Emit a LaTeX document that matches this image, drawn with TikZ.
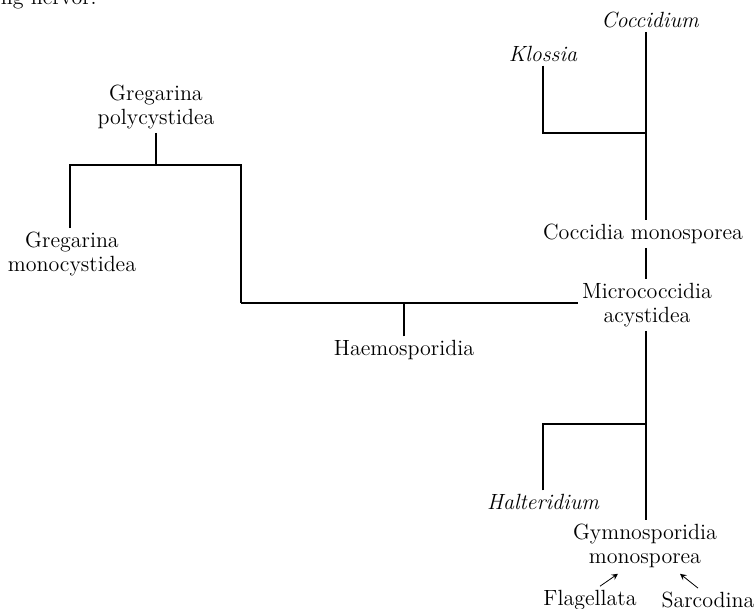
\documentclass[tikz,border=0pt]{standalone}
\usetikzlibrary{calc}
\begin{document}
\begin{tikzpicture}[x=0.5pt,y=-0.5pt,line width=0.9pt,
    every node/.style={font=\fontsize{11}{12}\selectfont,align=center,inner sep=1.5pt},
    genus/.style={font=\fontsize{11}{12}\selectfont\itshape},
    arr/.style={line width=0.4pt,-stealth}]
    \useasboundingbox (0,0) rectangle (756,609);
    \node[anchor=base west,inner sep=0pt] (fragment) at (0,5) {ng nervor:};
    % right-hand stem
    \node[genus] (coccidium) at (650,20) {Coccidium};
    \node[genus] (klossia) at (543,54) {Klossia};
    \node (coccmono) at (643,234) {Coccidia monosporea};
    \node (micro) at (647,305) {Micrococcidia\\acystidea};
    \node[genus] (halter) at (543,502) {Halteridium};
    \node (gymno) at (645,546) {Gymnosporidia\\monosporea};
    \node (flag) at (590,600) {Flagellata};
    \node (sarc) at (708,600) {Sarcodina};
    % left-hand tree
    \node (polycyst) at (156,107) {Gregarina\\polycystidea};
    \node (monocyst) at (72,254) {Gregarina\\monocystidea};
    \node (haemo) at (404,350) {Haemosporidia};
    \coordinate (kl) at (646,133);
    \coordinate (ha) at (646,424);
    \coordinate (gp) at (156,165);
    \coordinate (gr) at (241,303);
    \coordinate (hm) at (404,303);
    \draw (coccidium.south -| kl) -- (coccmono.north -| kl);
    \draw (coccmono.south -| kl) -- (micro.north -| kl);
    \draw (micro.south -| kl) -- (gymno.north -| kl);
    \draw (klossia) |- (kl);
    \draw (halter) |- (ha);
    \draw (polycyst) -- (gp);
    \draw (monocyst.north -| 70,0) |- (gp) -| (gr);
    \draw (gr) -- (gr -| micro.west);
    \draw (haemo) -- (hm);
    \draw[arr] ($(flag.north)+(10,0)$) -- ($(gymno.south)+(-27,2)$);
    \draw[arr] ($(sarc.north)+(-10,0)$) -- ($(gymno.south)+(35,2)$);
\end{tikzpicture}
\end{document}
